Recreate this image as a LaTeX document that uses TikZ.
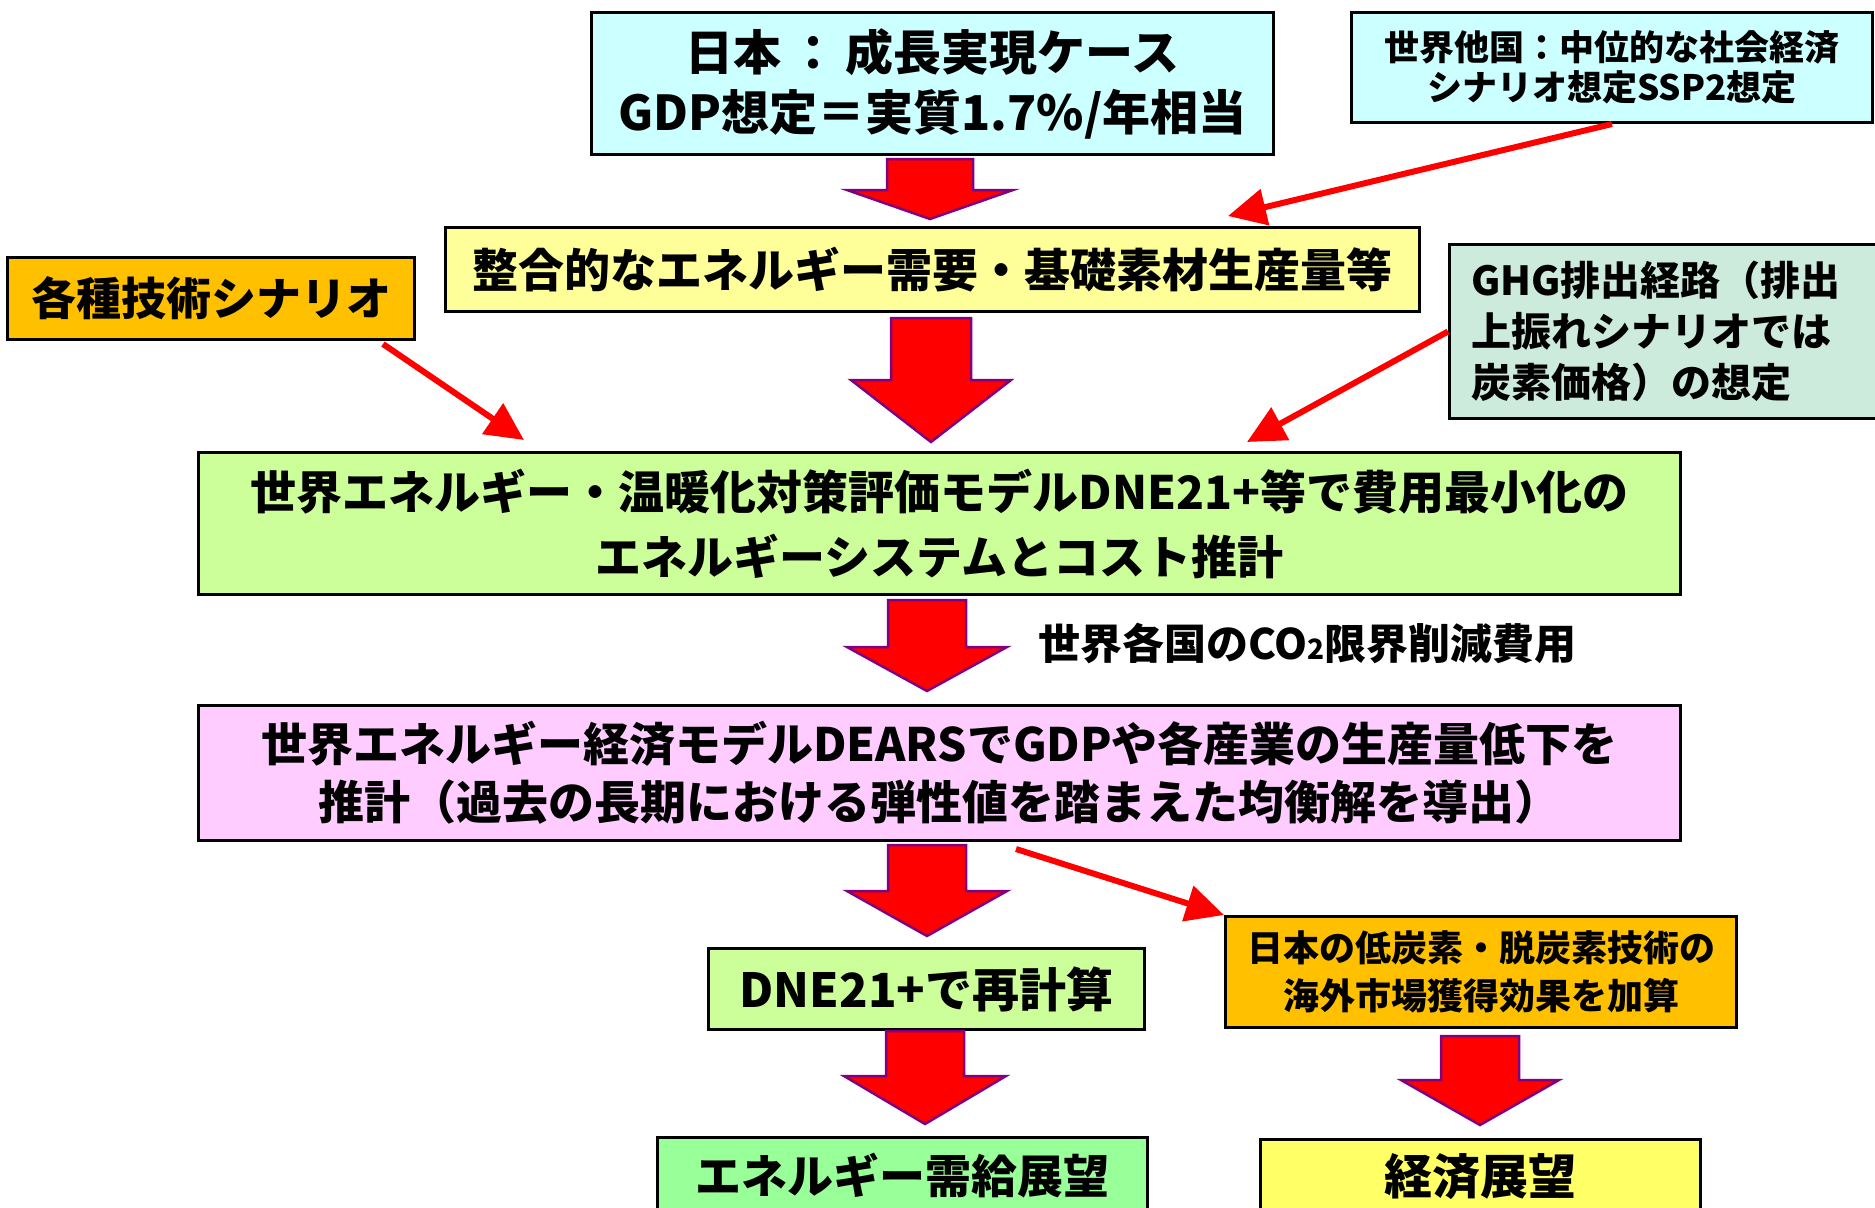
\documentclass[tikz,border=0pt]{standalone}
\usepackage{fontspec}
\setmainfont{Noto Sans CJK JP}
\usetikzlibrary{arrows.meta}
\definecolor{cyanbox}{HTML}{CCFFFF}
\definecolor{ltyellow}{HTML}{FFFF99}
\definecolor{orangebox}{HTML}{FFC000}
\definecolor{mintbox}{HTML}{CDEBDD}
\definecolor{ltgreen}{HTML}{CCFF99}
\definecolor{pinkbox}{HTML}{FFCCFF}
\definecolor{greenbox}{HTML}{99FF99}
\definecolor{yelbox}{HTML}{FFFF66}
\definecolor{arrowpurple}{HTML}{800080}
\tikzset{
  box/.style={draw=black, line width=3pt, inner sep=0pt, anchor=north west, align=center},
  blk/.style={fill=red, draw=arrowpurple, line width=2.5pt, line join=miter},
  conn/.style={draw=red, line width=6pt, -{Triangle[length=38pt,width=36pt]}},
}
\newcommand\blkarrow[6]{%
  \draw[blk] (#1-#5,#2) -- (#1+#5,#2) -- (#1+#5,#3) -- (#1+#6,#3) -- (#1,#4) -- (#1-#6,#3) -- (#1-#5,#3) -- cycle;}
\begin{document}
\begin{tikzpicture}[x=1pt,y=-1pt]
\useasboundingbox (0,0) rectangle (1875,1208);
\clip (0,0) rectangle (1875,1208);
\fill[white] (0,0) rectangle (1875,1208);

% boxes
\node[box, fill=cyanbox, minimum width=682pt, minimum height=142pt,
      font={\bfseries\fontsize{48}{60}\selectfont}] (jp) at (590,11)
  {日本\,：\,成長実現ケース\\GDP想定＝実質1.7\%/年相当};
\node[box, fill=cyanbox, minimum width=521pt, minimum height=110pt,
      font={\bfseries\fontsize{35}{40}\selectfont}] (world) at (1350,11)
  {世界他国：中位的な社会経済\\シナリオ想定SSP2想定};
\node[box, fill=ltyellow, minimum width=974pt, minimum height=84pt,
      font={\bfseries\fontsize{46}{56}\selectfont}] (demand) at (444,226)
  {整合的なエネルギー需要・基礎素材生産量等};
\node[box, fill=orangebox, minimum width=407pt, minimum height=82pt,
      font={\bfseries\fontsize{45}{56}\selectfont}] (tech) at (6,256)
  {各種技術シナリオ};
\node[box, fill=mintbox, minimum width=440pt, minimum height=174pt] (ghg) at (1448,243) {};
\node[anchor=west, align=left, inner sep=0pt,
      font={\bfseries\fontsize{40}{51}\selectfont}] (ghgtext) at (1471,331)
  {GHG排出経路（排出\\上振れシナリオでは\\炭素価格）の想定};
\node[box, fill=ltgreen, minimum width=1482pt, minimum height=142pt,
      font={\bfseries\fontsize{46}{65}\selectfont}] (dne) at (197,451)
  {世界エネルギー・温暖化対策評価モデルDNE21+等で費用最小化の\\エネルギーシステムとコスト推計};
\node[anchor=west, inner sep=0pt, font={\bfseries\fontsize{42}{50}\selectfont}] (mac) at (1038,643)
  {世界各国のCO{\fontsize{28}{30}\selectfont 2}限界削減費用};
\node[box, fill=pinkbox, minimum width=1482pt, minimum height=135pt,
      font={\bfseries\fontsize{46}{58}\selectfont}] (dears) at (197,704)
  {世界エネルギー経済モデルDEARSでGDPや各産業の生産量低下を\\推計（過去の長期における弾性値を踏まえた均衡解を導出）};
\node[box, fill=ltgreen, minimum width=436pt, minimum height=81pt,
      font={\bfseries\fontsize{47}{56}\selectfont}] (recalc) at (707,947)
  {DNE21+で再計算};
\node[box, fill=orangebox, minimum width=511pt, minimum height=111pt,
      font={\bfseries\fontsize{36}{48}\selectfont}] (export) at (1224,915)
  {日本の低炭素・脱炭素技術の\\海外市場獲得効果を加算};
\node[box, fill=greenbox, minimum width=490pt, minimum height=76pt,
      font={\bfseries\fontsize{46}{56}\selectfont}] (energy) at (656,1136)
  {エネルギー需給展望};
\node[box, fill=yelbox, minimum width=440pt, minimum height=74pt,
      font={\bfseries\fontsize{48}{56}\selectfont}] (econ) at (1259,1138)
  {経済展望};

% block arrows
\blkarrow{930}{159}{190}{219}{43}{83}
\blkarrow{931}{318}{380}{442}{40}{80}
\blkarrow{927}{600}{647}{691}{39}{80}
\blkarrow{927}{845}{891}{936}{39}{80}
\blkarrow{925}{1031}{1076}{1124}{39}{81}
\blkarrow{1480}{1036}{1080}{1125}{39}{79}

% red connectors
\coordinate (aend) at (1228,216);
\coordinate (bstart) at (383,344);
\coordinate (bend) at (524,440);
\coordinate (cend) at (1247,442);
\coordinate (dstart) at (1016,849);
\draw[conn] (world.south) -- (aend);
\draw[conn] (bstart) -- (bend);
\draw[conn] (ghg.west) -- (cend);
\draw[conn] (dstart) -- (export.north west);
\end{tikzpicture}
\end{document}
